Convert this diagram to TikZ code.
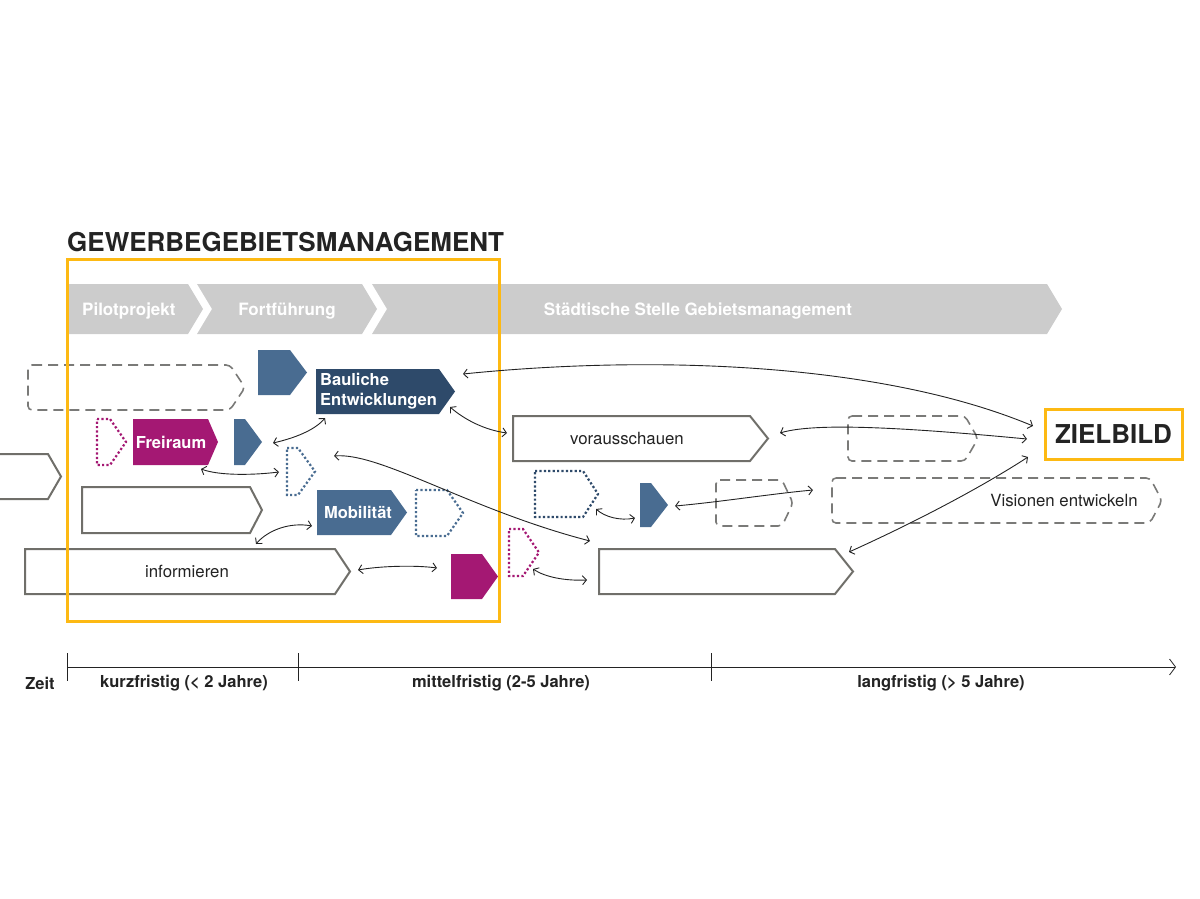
\documentclass[tikz,border=0pt]{standalone}
\usepackage{fontspec}
\setmainfont{TeX Gyre Heros}
\usetikzlibrary{arrows.meta,fit}
\definecolor{ygold}{RGB}{253,185,19}
\definecolor{bgrey}{RGB}{204,204,204}
\definecolor{navy}{RGB}{46,74,106}
\definecolor{steel}{RGB}{73,108,145}
\definecolor{mag}{RGB}{164,24,115}
\definecolor{ogrey}{RGB}{112,111,106}
\definecolor{dgrey}{RGB}{122,122,120}
\definecolor{ink}{RGB}{35,35,35}
\newcommand\pentshape[7]{%
  \path[#1] (#3,#4) -- (#5,#4) -- (#6,{(#4+#7)/2}) -- (#5,#7) -- (#3,#7) -- cycle;
  \node[fit={(#3,#4) (#6,#7)}, inner sep=0pt] (#2) {};}
\tikzset{
  fnavy/.style={fill=navy},
  fblue/.style={fill=steel},
  fmag/.style={fill=mag},
  outl/.style={draw=ogrey, line width=2pt, fill=white},
  dashbox/.style={draw=dgrey, line width=1.6pt, dash pattern=on 10pt off 6pt, rounded corners=4pt},
  dotblue/.style={draw=steel, line width=2.2pt, dash pattern=on 2.2pt off 2.2pt},
  dotnavy/.style={draw=navy, line width=2.2pt, dash pattern=on 2.2pt off 2.2pt},
  dotmag/.style={draw=mag, line width=2.2pt, dash pattern=on 2.2pt off 2.2pt},
  banner/.style={fill=bgrey},
  lbl/.style={font=\fontsize{16.8}{19}\selectfont, text=ink, inner sep=0pt},
  wlbl/.style={font=\bfseries\fontsize{16.5}{20}\selectfont, text=white, inner sep=0pt},
  axlbl/.style={font=\bfseries\fontsize{16.5}{18}\selectfont, text=ink, inner sep=0pt},
  conn/.style={draw=ink, line width=0.9pt, {Straight Barb[length=4pt,width=9pt]}-{Straight Barb[length=4pt,width=9pt]}},
}
\begin{document}
\begin{tikzpicture}[x=1pt, y=-1pt]
\useasboundingbox (0,0) rectangle (1200,899);
% banner
\path[banner] (69,284) -- (188,284) -- (203,309) -- (188,334) -- (69,334) -- cycle;
\path[banner] (197,284) -- (362,284) -- (377,309) -- (362,334) -- (197,334) -- (212,309) -- cycle;
\path[banner] (372,284) -- (1047,284) -- (1062,309) -- (1047,334) -- (372,334) -- (387,309) -- cycle;
\node[wlbl, anchor=west, font=\bfseries\fontsize{17}{20}\selectfont] (pilot) at (82,311) {Pilotprojekt};
\node[wlbl, font=\bfseries\fontsize{17}{20}\selectfont] (fort) at (287,311) {Fortführung};
\node[wlbl, font=\bfseries\fontsize{17}{20}\selectfont] (stelle) at (698,311) {Städtische Stelle Gebietsmanagement};
% shapes
\pentshape{dashbox}{p1}{28}{365}{230}{245}{410}
\pentshape{fblue}{p2}{258}{350}{290}{307}{395}
\pentshape{fnavy}{bau}{316}{369}{439}{455}{414}
\pentshape{dotmag}{p4}{97}{419}{110}{126}{465}
\pentshape{fmag}{frei}{133}{419}{208}{218}{465}
\pentshape{fblue}{p6}{234}{419}{245}{262}{465}
\pentshape{dotblue}{p7}{287}{448}{298}{315}{495}
\pentshape{outl}{p8}{-5}{454}{48}{61}{499}
\pentshape{outl}{p9}{82}{487}{250}{262}{533}
\pentshape{fblue}{mob}{317}{490}{391}{407}{535}
\pentshape{dotblue}{p11}{416}{490}{447}{463}{536}
\pentshape{outl}{inf}{25}{549}{335}{350}{594}
\pentshape{fmag}{p13}{451}{554}{482}{498}{599}
\pentshape{dotmag}{p14}{509}{529}{523}{539}{576}
\pentshape{outl}{vor}{513}{416}{750}{768}{461}
\pentshape{dotnavy}{p16}{535}{471}{583}{598}{517}
\pentshape{fblue}{p17}{640}{483}{651}{668}{527}
\pentshape{dashbox}{p18}{716}{480}{782}{793}{526}
\pentshape{outl}{p19}{599}{549}{835}{853}{594}
\pentshape{dashbox}{p20}{848}{416}{965}{978}{461}
\pentshape{dashbox}{vis}{832}{478}{1150}{1162}{523}
% labels in shapes
\node[wlbl, anchor=west, align=left] (baut) at (320,391) {Bauliche\\Entwicklungen};
\node[wlbl] (freit) at (171,442) {Freiraum};
\node[wlbl] (mobt) at (358,512) {Mobilität};
\node[lbl] (inft) at (187,571) {informieren};
\node[lbl] (vort) at (627,438) {vorausschauen};
\node[lbl] (vist) at (1064,500) {Visionen entwickeln};
% ZIELBILD
\node[draw=ygold, line width=3pt, minimum width=137pt, minimum height=50pt, inner sep=0pt,
      font=\bfseries\fontsize{26}{30}\selectfont, text=ink] (ziel) at (1113.5,434) {ZIELBILD};
% frame and title
\node[draw=ygold, line width=3pt, fit={(67,259) (499,621)}, inner sep=0pt] (frame) {};
\node[anchor=base west, inner sep=0pt, font=\bfseries\fontsize{26}{30}\selectfont, text=ink] (title) at (67,251) {GEWERBEGEBIETSMANAGEMENT};
% connector end points
\coordinate (c1a) at (463,374); \coordinate (c1b) at (1033,426);
\coordinate (c2a) at (780,433); \coordinate (c2b) at (1027,439);
\coordinate (c3a) at (849,552); \coordinate (c3b) at (1028,457);
\coordinate (c4a) at (675,506); \coordinate (c4b) at (813,490);
\coordinate (c5a) at (596,509); \coordinate (c5b) at (635,518);
\coordinate (c6a) at (450,407); \coordinate (c6b) at (507,433);
\coordinate (c7a) at (334,456); \coordinate (c7b) at (590,541);
\coordinate (c8a) at (273,443); \coordinate (c8b) at (325,418);
\coordinate (c9a) at (201,469); \coordinate (c9b) at (279,472);
\coordinate (c10a) at (312,526); \coordinate (c10b) at (256,544);
\coordinate (c11a) at (358,570); \coordinate (c11b) at (437,568);
\coordinate (c12a) at (533,569); \coordinate (c12b) at (587,580);
\draw[conn] (c1a) .. controls (650,355) and (880,362) .. (c1b);
\draw[conn] (c2a) .. controls (810,424) and (880,425) .. (c2b);
\draw[conn] (c3a) .. controls (920,520) and (985,485) .. (c3b);
\draw[conn] (c4a) .. controls (720,502) and (770,494) .. (c4b);
\draw[conn] (c5a) .. controls (605,517) and (620,521) .. (c5b);
\draw[conn] (c6a) .. controls (465,420) and (485,430) .. (c6b);
\draw[conn] (c7a) .. controls (380,452) and (470,510) .. (c7b);
\draw[conn] (c8a) .. controls (295,438) and (315,430) .. (c8b);
\draw[conn] (c9a) .. controls (220,476) and (255,475) .. (c9b);
\draw[conn] (c10a) .. controls (290,522) and (268,530) .. (c10b);
\draw[conn] (c11a) .. controls (380,566) and (415,565) .. (c11b);
\draw[conn] (c12a) .. controls (545,577) and (565,581) .. (c12b);
% time axis
\coordinate (ax0) at (67,667); \coordinate (ax1) at (1176,667);
\coordinate (t1a) at (67,653); \coordinate (t1b) at (67,681);
\coordinate (t2a) at (298,653); \coordinate (t2b) at (298,681);
\coordinate (t3a) at (711,653); \coordinate (t3b) at (711,681);
\draw[draw=ink, line width=0.8pt, -{Straight Barb[length=6pt,width=16pt]}] (ax0) -- (ax1);
\draw[draw=ink, line width=0.8pt] (t1a) -- (t1b) (t2a) -- (t2b) (t3a) -- (t3b);
\node[axlbl] (zeit) at (40,683) {Zeit};
\node[axlbl] (kurz) at (184,683) {kurzfristig (< 2 Jahre)};
\node[axlbl] (mittel) at (501,683) {mittelfristig (2-5 Jahre)};
\node[axlbl] (lang) at (941,683) {langfristig (> 5 Jahre)};
\end{tikzpicture}
\end{document}
